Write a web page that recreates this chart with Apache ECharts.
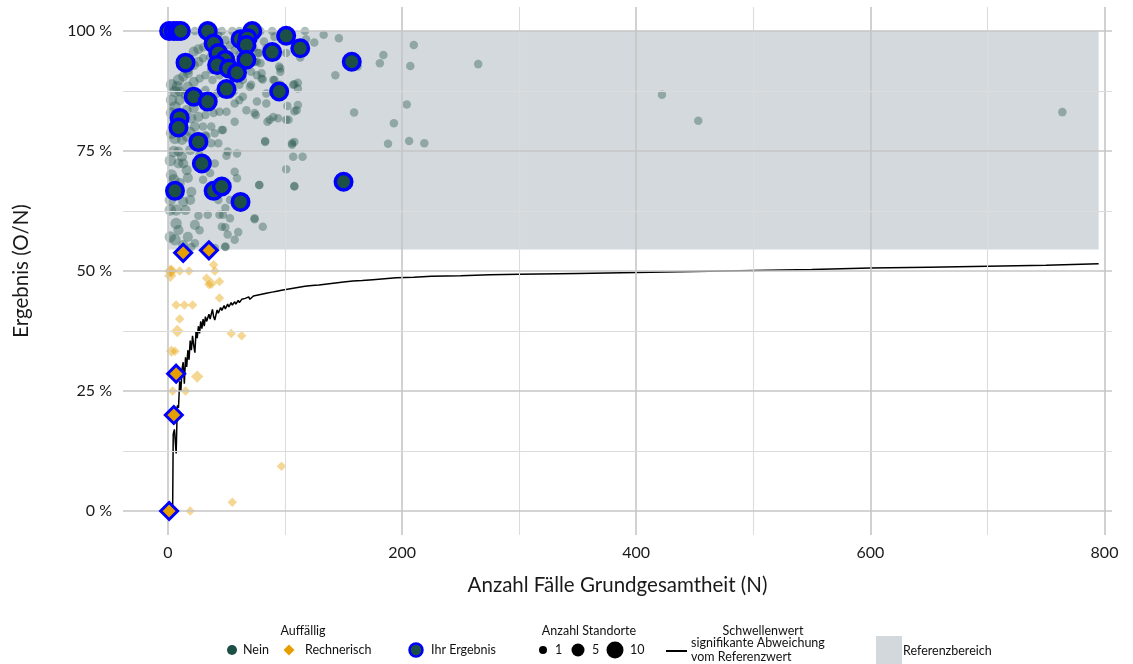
<!DOCTYPE html>
<html>
<head>
<meta charset="utf-8">
<script src="https://cdn.jsdelivr.net/npm/echarts@6/dist/echarts.min.js"></script>
<style>
  html, body { margin: 0; padding: 0; background: #ffffff; }
  #chart { width: 1133px; height: 664px; }
</style>
</head>
<body>
<div id="chart"></div>
<script>
// Standorte: [N, Ergebnis in %, Anzahl Standorte]
const neinPoints = [
  [23,100,1],[40,100,1],[46,100,1],[55,100,1],[61,100,1],[79,100,1],[89,100,1],[96,98.8,1],
  [117,100,1],[133,99.2,1],[146,98.5,1],[125,97.6,1],[118,98.3,1],[113,94.5,1],[162,92.6,1],
  [143,90.8,1],[184,95,1],[181,93.3,1],[210,97.1,1],[207,92.7,1],[265,93.1,1],[108,88.9,1],
  [111,89.2,1],[111,88,1],[111,84.6,1],[108,83.3,1],[159,83,1],[204,84.7,1],[193,80.8,1],
  [188,76.5,1],[206,77.1,1],[219,76.6,1],[108,76.9,1],[106,76.3,1],[107,73.8,1],[115,73.8,1],
  [108,67.7,1],[422,86.7,1],[453,81.3,1],[764,83.1,1],
  [95,92.6,1],[96,91.5,1],[91,89.8,1],[107,88.8,1],[84,87,1],[71,88.8,1],[80,90.1,1],
  [76,93.6,1],[77,95.4,1],[91,98.8,1],[101,95.4,1],[82,97.8,1],[102,84.4,1],[90,82.1,1],
  [94,81.8,1],[85,81.1,1],[75,82.5,1],[83,77.1,1],[101,71.2,1],[78,67.9,1],[74,61,1],[103,81.5,1],
  [22,95.7,2],[26,96.2,2],[30,96.6,1],[17,91.9,2],[22,92.9,2],[26,93.6,2],[30,94.3,1],[36,94.6,1],
  [13,90.5,2],[17,91.2,2],[9,89.8,3],[8,88.4,3],[10,87.4,2],[6,87.4,3],[3,85.6,3],[6,84.2,3],
  [17,88.4,2],[22,89.4,2],[27,90.1,1],[32,90.8,1],[37,91.9,1],[16,83.5,2],[22,83.9,2],[36,86.3,1],
  [42,87,1],[3,82.9,3],[6,81.5,3],[20,81.8,2],[26,82.1,2],[32,82.5,1],[39,82.9,1],[44,83.2,1],
  [37,80.1,1],[30,80.1,1],[23,80.1,2],[19,79,2],[25,78,2],[32,78.3,1],[40,78.7,1],[46,79.4,1],
  [3,78.7,3],[6,77.6,3],[12,77.3,2],[16,78,2],[33,78,1],[37,76.6,1],[43,76.6,1],[5,74.9,3],
  [9,74.9,2],[12,73.8,2],[13,72.4,2],[16,71,2],[9,72.4,2],[40,72.4,1],[36,70.4,1],[20,66.5,2],
  [13,64.4,2],[15,62.7,2],[7,62.7,3],[2,62.7,3],[7,59.9,3],[26,61.5,1],[34,61.7,1],[46,59.2,1],
  [17,57.1,2],[2,57.1,3],[23,55.8,1],[40,54.8,1],[20,55,1],[49,55,1],
  [73,96.4,1],[84,96.4,1],[78,95.4,1],[74,93.6,1],[79,93.3,1],[96,92.2,1],[71,91.5,1],[76,90.8,1],
  [80,91.2,1],[81,89.9,1],[64,89.8,1],[61,88.8,1],[70,88.4,1],[90,89.8,1],[96,88.8,1],[64,86.3,1],
  [56,87.4,1],[57,84.9,1],[76,85.3,1],[84,84.9,1],[67,83.5,1],[74,82.9,1],[50,83.2,1],[87,81.5,1],
  [57,81.1,1],[101,81.5,1],[47,79.4,1],[110,83.5,1],
  [83,76.9,1],[106,76.6,1],[51,74.9,1],[59,74.5,1],[50,74,1],[57,70.7,1],[59,69.3,1],[78,67.9,1],
  [108,67.6,1],[53,64.8,1],[49,63.1,1],[47,61.7,1],[74,60.8,1],[81,59.2,1],[49,59.1,1],[51,57.6,1],
  [49,55.1,1],
  [43,99.2,1],[49,98.1,1],[53,97.1,1],[57,96,1],[46,96.5,1],[51,95,1],[61,95,1],[66,92.9,1],
  [55,93.5,1],[70,98.1,1],[74,98.5,1],[66,99.2,1],[38,89.8,1],[44,90.8,1],[49,88.8,1],[53,86.7,1],
  [61,85.6,1],[32,87.7,1],[27,85.6,1],[32,84.6,1],[10,85.6,2],[15,86.7,2],[3,88.8,3],[5,79.4,3],
  [2,73,3],[3,70,3],[5,69,3],[2,64.8,3],[6,56.5,3],
  [10,68.3,2],[19,64.8,2],[23,59.6,2],[27,58.5,1],[17,69.4,2],[24,72.1,1],[30,69,1],[19,75.2,2],
  [27,74.2,1],[9,58.5,2],[13,55.4,2],[38,67.9,1],[43,64.8,1],[44,61.7,1],[53,61,1],[57,56.5,1],
  [60,58.1,1]
];

// Rechnerisch auffällige Standorte: [N, Ergebnis in %, Anzahl Standorte]
const rechnerischPoints = [
  [2,50,3],[3,50,3],[2,49,3],[10,50,1],[18,50,1],[39,51.3,1],[40,50,1],[33,48.5,1],[37,47.4,2],
  [35,47.2,1],[44,47.8,1],[44,44.4,1],[7,42.9,1],[14,42.9,1],[21,42.9,1],[10,40,1],[8,37.5,3],
  [54,37,1],[63,36.5,1],[3,33.3,2],[6,33.3,1],[25,28,3],[4,25,1],[15,25,1],[97,9.3,1],[55,1.8,1],
  [19,0,1]
];

// Eigene Standorte
const ihrNein = [
  [1,100],[5,100],[8,100],[11,100],[34,100],[72,100],[39,97.4],[62,98.3],[68,98.5],[67,97.1],
  [101,99],[113,96.4],[157,93.6],[89,95.6],[15,93.4],[43,95.4],[49,94],[67,94],[42,92.9],[52,92.2],
  [59,91.3],[50,87.9],[95,87.4],[22,86.3],[34,85.3],[10,81.9],[9,79.9],[26,76.9],[29,72.4],
  [6,66.7],[39,66.7],[46,67.6],[62,64.4],[150,68.6]
];
const ihrRechnerisch = [[13,53.8],[35,54.3],[7,28.6],[5,20],[1,0]];

// Schwellenwert signifikante Abweichung vom Referenzwert
const threshN = [4,4.5,5.5,7,8,9,10,11,12,13,14,15,16,17,18,19,20,21,22,23,24,25,26,27,28,29,30,31,32,
  33,35,36,38,39,40,42,43,45,46,48,49,51,52,54,55,57,58,60,61,63,64,66,67,69,70,73,74,77,78,81,82,
  85,86,89,90,93,94,97,98,102,103,107,108,112,113,117,118,123,124,129,130,136,137,143,144,150,151,
  158,159,166,167,175,176,185,186,195,196,210,225,250,275,300,350,400,450,500,550,600,650,700,750,795];
const threshP = [0,16,17,12,22,21.5,27,25,29.5,31,26.5,32,30,33.5,31.5,35.5,33.5,36.5,34.5,33,37.5,36,
  38.5,37,39.5,38,40,38.5,40.5,39.5,41,40,42,40.5,39.8,41.9,41.2,42.4,41.8,42.8,42.1,43.1,42.5,43.4,
  42.9,43.6,43.1,43.9,43.4,44.1,43.7,44.3,43.9,44.6,44.1,44.8,44.4,45.0,44.6,45.2,44.9,45.4,45.1,
  45.6,45.3,45.8,45.5,46.0,45.7,46.2,45.9,46.4,46.1,46.6,46.3,46.8,46.5,47.0,46.7,47.1,46.9,47.3,
  47.1,47.5,47.3,47.7,47.5,47.9,47.7,48.0,47.9,48.2,48.1,48.4,48.3,48.6,48.5,48.7,48.9,49.0,49.2,
  49.3,49.5,49.7,49.9,50.1,50.3,50.6,50.8,51.0,51.2,51.5];

// Referenzbereich
const refBand = { nFrom: 0, nTo: 795, pFrom: 54.5, pTo: 100 };

// Achsen
const xTicks = [0, 200, 400, 600, 800];
const yTicks = [0, 25, 50, 75, 100];
const xGrid = [0, 100, 200, 300, 400, 500, 600, 700, 800];
const yGrid = [0, 12.5, 25, 37.5, 50, 62.5, 75, 87.5, 100];

const FONT = 'Lato';
const GREEN = '#1c5046';
const ORANGE = '#e69f00';
const BLUE = '#0000ff';

function sizeFor(s) { return 4.5 + 4 * Math.sqrt(s); }

const gridLines = [];
xGrid.forEach(v => gridLines.push({
  xAxis: v,
  lineStyle: { color: v % 200 === 0 ? '#c6c6c6' : '#dcdcdc', width: v % 200 === 0 ? 1.6 : 1.1, type: 'solid' }
}));
yGrid.forEach(v => gridLines.push({
  yAxis: v,
  lineStyle: { color: v % 25 === 0 ? '#c6c6c6' : '#dcdcdc', width: v % 25 === 0 ? 1.6 : 1.1, type: 'solid' }
}));

const chart = echarts.init(document.getElementById('chart'), null, { renderer: 'canvas' });

const legendTextStyle = { fontFamily: FONT, fontSize: 12.5, fill: '#111' };
function legText(x, y, text, align) {
  return { type: 'text', x: x, y: y, silent: true,
    style: Object.assign({ text: text, align: align || 'left', verticalAlign: 'middle' }, legendTextStyle) };
}

chart.setOption({
  animation: false,
  grid: { left: 123, right: 21, top: 7, bottom: 129, containLabel: false },
  xAxis: {
    type: 'value', min: -38.4, max: 806.4,
    axisLine: { show: false }, axisTick: { show: false }, splitLine: { show: false },
    axisLabel: { customValues: xTicks, fontFamily: FONT, fontSize: 16, color: '#1a1a1a', margin: 10 },
    name: 'Anzahl Fälle Grundgesamtheit (N)', nameLocation: 'middle', nameGap: 40,
    nameTextStyle: { fontFamily: FONT, fontSize: 20.5, color: '#1a1a1a' }
  },
  yAxis: {
    type: 'value', min: -5, max: 105,
    axisLine: { show: false }, axisTick: { show: false }, splitLine: { show: false },
    axisLabel: { customValues: yTicks, formatter: v => v + ' %', fontFamily: FONT, fontSize: 16, color: '#1a1a1a', margin: 11 },
    name: 'Ergebnis (O/N)', nameLocation: 'middle', nameGap: 91, nameRotate: 90,
    nameTextStyle: { fontFamily: FONT, fontSize: 20.5, color: '#1a1a1a' }
  },
  series: [
    {
      name: 'raster', type: 'scatter', data: [], z: 1, silent: true,
      markLine: { silent: true, symbol: ['none', 'none'], label: { show: false }, animation: false, data: gridLines }
    },
    {
      name: 'Referenzbereich', type: 'scatter', data: [], z: 2, silent: true,
      markArea: {
        silent: true, itemStyle: { color: 'rgba(110,128,140,0.30)' },
        data: [[{ coord: [refBand.nFrom, refBand.pFrom] }, { coord: [refBand.nTo, refBand.pTo] }]]
      }
    },
    {
      name: 'Nein', type: 'scatter', z: 3,
      data: neinPoints,
      symbol: 'circle',
      symbolSize: d => sizeFor(d[2]),
      itemStyle: { color: GREEN, opacity: 0.36 }
    },
    {
      name: 'Rechnerisch', type: 'scatter', z: 3,
      data: rechnerischPoints,
      symbol: 'diamond',
      symbolSize: d => sizeFor(d[2]) + 1,
      itemStyle: { color: ORANGE, opacity: 0.42 }
    },
    {
      name: 'Schwellenwert', type: 'line', z: 4,
      data: threshN.map((n, i) => [n, threshP[i]]),
      showSymbol: false, symbol: 'none',
      lineStyle: { color: '#000', width: 1.5 }
    },
    {
      name: 'Ihr Ergebnis', type: 'scatter', z: 5,
      data: ihrNein,
      symbol: 'circle', symbolSize: 16.5,
      itemStyle: { color: GREEN, borderColor: BLUE, borderWidth: 3.5, opacity: 1 }
    },
    {
      name: 'Ihr Ergebnis rechnerisch', type: 'scatter', z: 5,
      data: ihrRechnerisch,
      symbol: 'diamond', symbolSize: 17,
      itemStyle: { color: ORANGE, borderColor: BLUE, borderWidth: 3, opacity: 1 }
    }
  ],
  graphic: [
    legText(303, 631, 'Auffällig', 'center'),
    { type: 'circle', shape: { cx: 232, cy: 650, r: 5 }, style: { fill: GREEN }, silent: true },
    legText(243, 650, 'Nein'),
    { type: 'polygon', shape: { points: [[289, 644.5], [294.5, 650], [289, 655.5], [283.5, 650]] }, style: { fill: ORANGE }, silent: true },
    legText(305, 650, 'Rechnerisch'),
    { type: 'circle', shape: { cx: 416, cy: 650, r: 6.5 }, style: { fill: GREEN, stroke: BLUE, lineWidth: 2.5 }, silent: true },
    legText(431, 650, 'Ihr Ergebnis'),
    legText(589, 631, 'Anzahl Standorte', 'center'),
    { type: 'circle', shape: { cx: 543, cy: 650, r: 4 }, style: { fill: '#000' }, silent: true },
    legText(555, 650, '1'),
    { type: 'circle', shape: { cx: 578, cy: 650, r: 6.5 }, style: { fill: '#000' }, silent: true },
    legText(592, 650, '5'),
    { type: 'circle', shape: { cx: 615, cy: 650, r: 8.5 }, style: { fill: '#000' }, silent: true },
    legText(630, 650, '10'),
    { type: 'line', shape: { x1: 666, y1: 651, x2: 687, y2: 651 }, style: { stroke: '#000', lineWidth: 2 }, silent: true },
    legText(763, 631, 'Schwellenwert', 'center'),
    legText(691, 643, 'signifikante Abweichung'),
    legText(691, 657, 'vom Referenzwert'),
    { type: 'rect', shape: { x: 876, y: 636, width: 26, height: 28 }, style: { fill: '#d3d8dc' }, silent: true },
    legText(903, 651, 'Referenzbereich')
  ]
});
</script>
</body>
</html>
